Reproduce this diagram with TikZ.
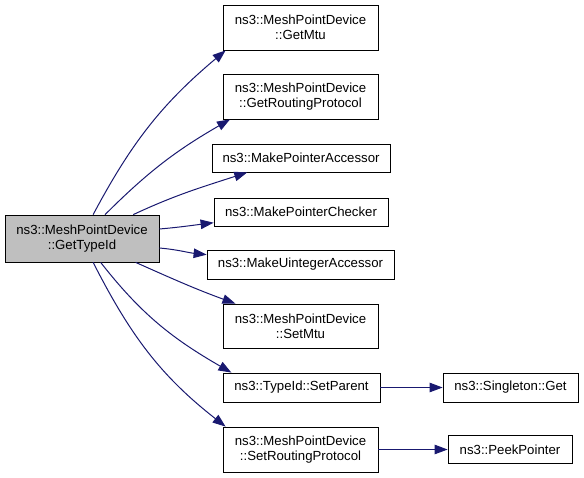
\documentclass[tikz,border=0pt]{standalone}
\usepackage{fontspec}
\setmainfont{Liberation Sans}
\usetikzlibrary{arrows.meta,positioning}
\definecolor{callblue}{HTML}{191970}

\tikzset{
  fn/.style={draw=black, line width=0.8pt, fill=white, align=center,
    inner sep=0pt, font=\fontsize{13.2}{15}\selectfont},
  call/.style={draw=callblue, line width=1pt,
    -{Triangle[length=13pt,width=9.5pt]}},
}

\begin{document}
\begin{tikzpicture}[x=1pt,y=1pt]
\useasboundingbox (0,0) rectangle (584,-477);

\node[fn, fill=gray!50, minimum width=154, minimum height=47] (a) at (82,-238.5) {ns3::MeshPointDevice\\::GetTypeId};

\node[fn, minimum width=155, minimum height=45] (mtu) at (300.5,-27.5) {ns3::MeshPointDevice\\::GetMtu};
\node[fn, minimum width=155, minimum height=45] (rp) at (300.5,-96.5) {ns3::MeshPointDevice\\::GetRoutingProtocol};
\node[fn, minimum width=178, minimum height=28] (mpa) at (301,-158) {ns3::MakePointerAccessor};
\node[fn, minimum width=174, minimum height=28] (mpc) at (301,-212) {ns3::MakePointerChecker};
\node[fn, minimum width=187, minimum height=29] (mua) at (300.5,-264.5) {ns3::MakeUintegerAccessor};
\node[fn, minimum width=155, minimum height=44] (smtu) at (300.5,-326) {ns3::MeshPointDevice\\::SetMtu};
\node[fn, minimum width=157, minimum height=29] (sp) at (301.5,-387.5) {ns3::TypeId::SetParent};
\node[fn, minimum width=155, minimum height=45] (srp) at (300.5,-449.5) {ns3::MeshPointDevice\\::SetRoutingProtocol};
\node[fn, minimum width=135, minimum height=29] (sg) at (510.5,-387.5) {ns3::Singleton::Get};
\node[fn, minimum width=124, minimum height=28] (pp) at (510,-449.5) {ns3::PeekPointer};

% calls out of GetTypeId
\draw[call] (a.65) to[out=62,in=220] (mtu.197);
\draw[call] (a.46) to[out=45,in=210] (rp.198);
\draw[call] (a.25) to[out=25,in=198] (mpa.195);
\draw[call] (a.7) to[out=5,in=187] (mpc);
\draw[call] (a.-7) to[out=-5,in=174] (mua);
\draw[call] (a.-24) to[out=-24,in=160] (smtu.161);
\draw[call] (a.-52) to[out=-52,in=150] (sp.168);
\draw[call] (a.-65) to[out=-63,in=142] (srp.163);

% second level
\draw[call] (sp) -- (sg);
\draw[call] (srp) -- (pp);
\end{tikzpicture}
\end{document}
